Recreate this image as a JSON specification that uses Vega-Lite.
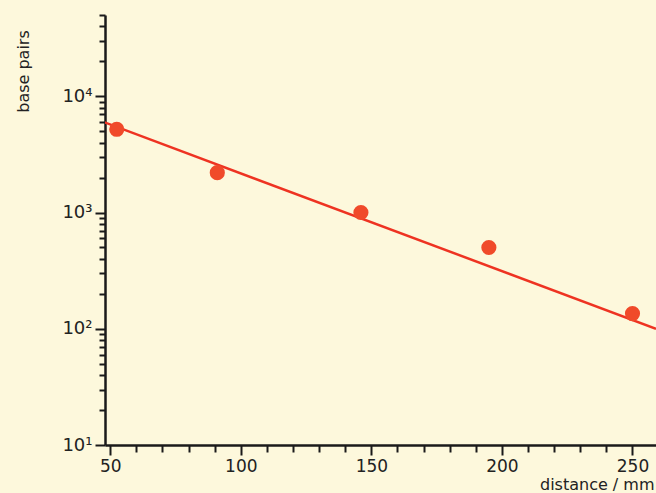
{
  "$schema": "https://vega.github.io/schema/vega-lite/v6.json",
  "width": 551,
  "height": 430,
  "autosize": "none",
  "padding": {"left": 105, "top": 15, "right": 0, "bottom": 48},
  "background": "#fdf8dc",
  "config": {"view": {"stroke": null}, "font": "DejaVu Sans"},
  "datasets": {
    "points": [
      {"distance": 52.5, "bp": 5200},
      {"distance": 91, "bp": 2200},
      {"distance": 146, "bp": 1000},
      {"distance": 195, "bp": 500},
      {"distance": 250, "bp": 135}
    ],
    "fit": [
      {"distance": 47.5, "bp": 6000},
      {"distance": 259, "bp": 100}
    ]
  },
  "layer": [
    {
      "data": {"name": "fit"},
      "mark": {"type": "line", "color": "#ee3322", "strokeWidth": 2.5, "clip": true},
      "encoding": {
        "x": {"field": "distance", "type": "quantitative",
          "scale": {"domain": [48, 259], "nice": false, "zero": false},
          "axis": {
            "values": [50,60,70,80,90,100,110,120,130,140,150,160,170,180,190,200,210,220,230,240,250],
            "tickCount": 50,
            "labelExpr": "datum.value % 50 === 0 ? datum.label : ''",
            "labelOverlap": false,
            "grid": false,
            "domainColor": "#1a1a1a", "domainWidth": 2.5,
            "tickColor": "#1a1a1a", "tickWidth": 2,
            "tickSize": {"condition": {"test": "datum.value % 50 === 0", "value": 10}, "value": 7},
            "labelFontSize": 17, "labelColor": "#222", "labelPadding": 3,
            "title": "distance / mm", "titleFontSize": 16, "titleFontWeight": "normal", "titleColor": "#222",
            "titleAnchor": "end", "titleAlign": "right", "titleBaseline": "alphabetic", "titleX": 549, "titleY": 44
          }
        },
        "y": {"field": "bp", "type": "quantitative",
          "scale": {"type": "log", "domain": [10, 50000], "nice": false},
          "axis": {
            "values": [10,20,30,40,50,60,70,80,90,100,200,300,400,500,600,700,800,900,1000,2000,3000,4000,5000,6000,7000,8000,9000,10000,20000,30000,40000,50000],
            "tickCount": 60,
            "labelExpr": "datum.value === 10 ? '10¹' : datum.value === 100 ? '10²' : datum.value === 1000 ? '10³' : datum.value === 10000 ? '10⁴' : ''",
            "labelOverlap": false,
            "grid": false,
            "domainColor": "#1a1a1a", "domainWidth": 2.5,
            "tickColor": "#1a1a1a", "tickWidth": 2,
            "tickSize": {"condition": {"test": "indexof([10,100,1000,10000], datum.value) >= 0", "value": 10}, "value": 6},
            "labelFontSize": 18, "labelColor": "#222", "labelPadding": 3,
            "title": "base pairs", "titleFontSize": 16, "titleFontWeight": "normal", "titleColor": "#222",
            "titleAngle": 270, "titleAlign": "center", "titleBaseline": "middle",
            "titleX": -82, "titleY": 56
          }
        }
      }
    },
    {
      "data": {"name": "points"},
      "mark": {"type": "circle", "color": "#f04a2a", "opacity": 1, "size": 230},
      "encoding": {
        "x": {"field": "distance", "type": "quantitative"},
        "y": {"field": "bp", "type": "quantitative"}
      }
    }
  ]
}
